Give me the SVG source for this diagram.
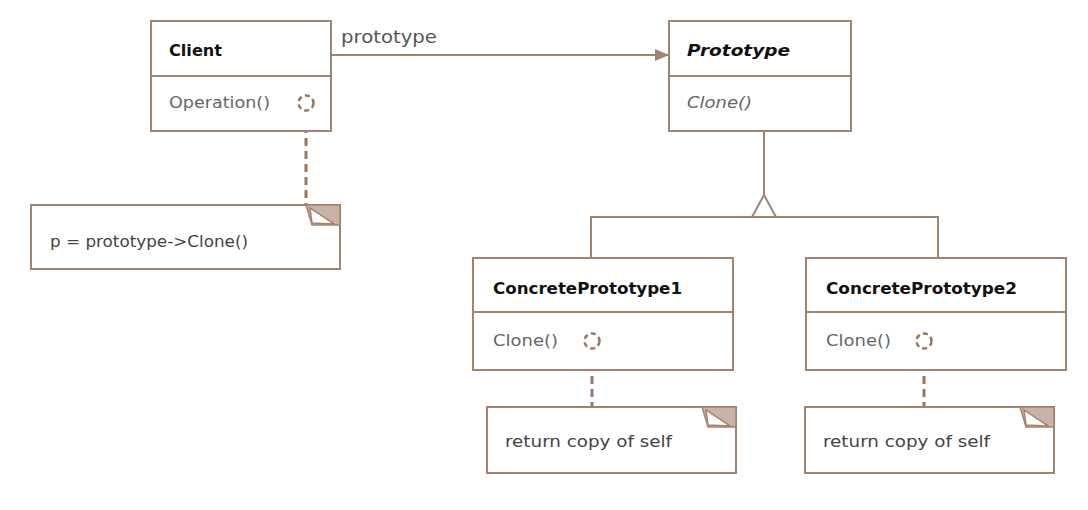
<svg xmlns="http://www.w3.org/2000/svg" width="1088" height="510" viewBox="0 0 1088 510">
<defs>
<style>
.box{fill:#fff;stroke:#a3826f;stroke-width:2}
.ln{fill:none;stroke:#a3826f;stroke-width:2}
.dash{fill:none;stroke:#9a7560;stroke-width:3;stroke-dasharray:8,5}
.dc{fill:none;stroke:#9a7560;stroke-width:2.5;stroke-dasharray:5,3.5}
.name{font-family:"DejaVu Sans","Liberation Sans",sans-serif;font-size:16px;font-weight:bold;fill:#111}
.op{font-family:"DejaVu Sans","Liberation Sans",sans-serif;font-size:15px;fill:#666}
.note{font-family:"DejaVu Sans","Liberation Sans",sans-serif;font-size:15px;fill:#444}
.lbl{font-family:"DejaVu Sans","Liberation Sans",sans-serif;font-size:17px;fill:#555}
.fold{fill:#c8b3a6;stroke:#a3826f;stroke-width:1.5}
.curl{fill:#fff;stroke:#a3826f;stroke-width:1.5}
</style>
<marker id="arr" markerWidth="14" markerHeight="12" refX="13" refY="6" orient="auto" markerUnits="userSpaceOnUse">
<path d="M0,0 L14,6 L0,12 Z" fill="#a3826f"/>
</marker>
</defs>
<g id="connectors">
<line class="ln" x1="332" y1="55" x2="668" y2="55" marker-end="url(#arr)"/>
<text class="lbl" x="341" y="43" textLength="96" lengthAdjust="spacingAndGlyphs">prototype</text>
<line class="ln" x1="764" y1="132" x2="764" y2="195"/>
<path class="ln" d="M764,195 L752,217 L776,217 Z"/>
<path class="ln" d="M591,258 L591,217 L938,217 L938,258"/>
<line class="dash" x1="306" y1="112" x2="306" y2="205"/>
<line class="dash" x1="592" y1="350" x2="592" y2="407"/>
<line class="dash" x1="924" y1="350" x2="924" y2="407"/>
</g>
<g id="client">
<rect class="box" x="151" y="21" width="180" height="110"/>
<line class="ln" x1="151" y1="76" x2="331" y2="76"/>
<text class="name" x="169" y="56" textLength="53" lengthAdjust="spacingAndGlyphs">Client</text>
<text class="op" x="169" y="108" textLength="101" lengthAdjust="spacingAndGlyphs">Operation()</text>
<circle class="dc" cx="306" cy="103" r="7.5"/>
</g>
<g id="prototype">
<rect class="box" x="669" y="21" width="182" height="110"/>
<line class="ln" x1="669" y1="76" x2="851" y2="76"/>
<text class="name" x="687" y="56" font-style="italic" textLength="103" lengthAdjust="spacingAndGlyphs">Prototype</text>
<text class="op" x="687" y="108" font-style="italic" textLength="65" lengthAdjust="spacingAndGlyphs">Clone()</text>
</g>
<g id="cp1">
<rect class="box" x="473" y="258" width="260" height="112"/>
<line class="ln" x1="473" y1="312" x2="733" y2="312"/>
<text class="name" x="493" y="294" textLength="189" lengthAdjust="spacingAndGlyphs">ConcretePrototype1</text>
<text class="op" x="493" y="346" textLength="65" lengthAdjust="spacingAndGlyphs">Clone()</text>
<circle class="dc" cx="592" cy="341" r="7.5"/>
</g>
<g id="cp2">
<rect class="box" x="806" y="258" width="260" height="112"/>
<line class="ln" x1="806" y1="312" x2="1066" y2="312"/>
<text class="name" x="826" y="294" textLength="191" lengthAdjust="spacingAndGlyphs">ConcretePrototype2</text>
<text class="op" x="826" y="346" textLength="65" lengthAdjust="spacingAndGlyphs">Clone()</text>
<circle class="dc" cx="924" cy="341" r="7.5"/>
</g>
<g id="note-client">
<rect class="box" x="31" y="205" width="309" height="64"/>
<path class="fold" d="M306,205 L340,205 L340,225 L312,225 Z"/>
<path class="curl" d="M310,208 L312,223 L334,224 Z"/>
<text class="note" x="50" y="247" textLength="198" lengthAdjust="spacingAndGlyphs">p = prototype-&gt;Clone()</text>
</g>
<g id="note-cp1">
<rect class="box" x="487" y="407" width="249" height="66"/>
<path class="fold" d="M702,407 L736,407 L736,427 L708,427 Z"/>
<path class="curl" d="M706,410 L708,425 L730,426 Z"/>
<text class="note" x="505" y="447" textLength="167" lengthAdjust="spacingAndGlyphs">return copy of self</text>
</g>
<g id="note-cp2">
<rect class="box" x="805" y="407" width="249" height="66"/>
<path class="fold" d="M1020,407 L1054,407 L1054,427 L1026,427 Z"/>
<path class="curl" d="M1024,410 L1026,425 L1048,426 Z"/>
<text class="note" x="823" y="447" textLength="167" lengthAdjust="spacingAndGlyphs">return copy of self</text>
</g>
</svg>
